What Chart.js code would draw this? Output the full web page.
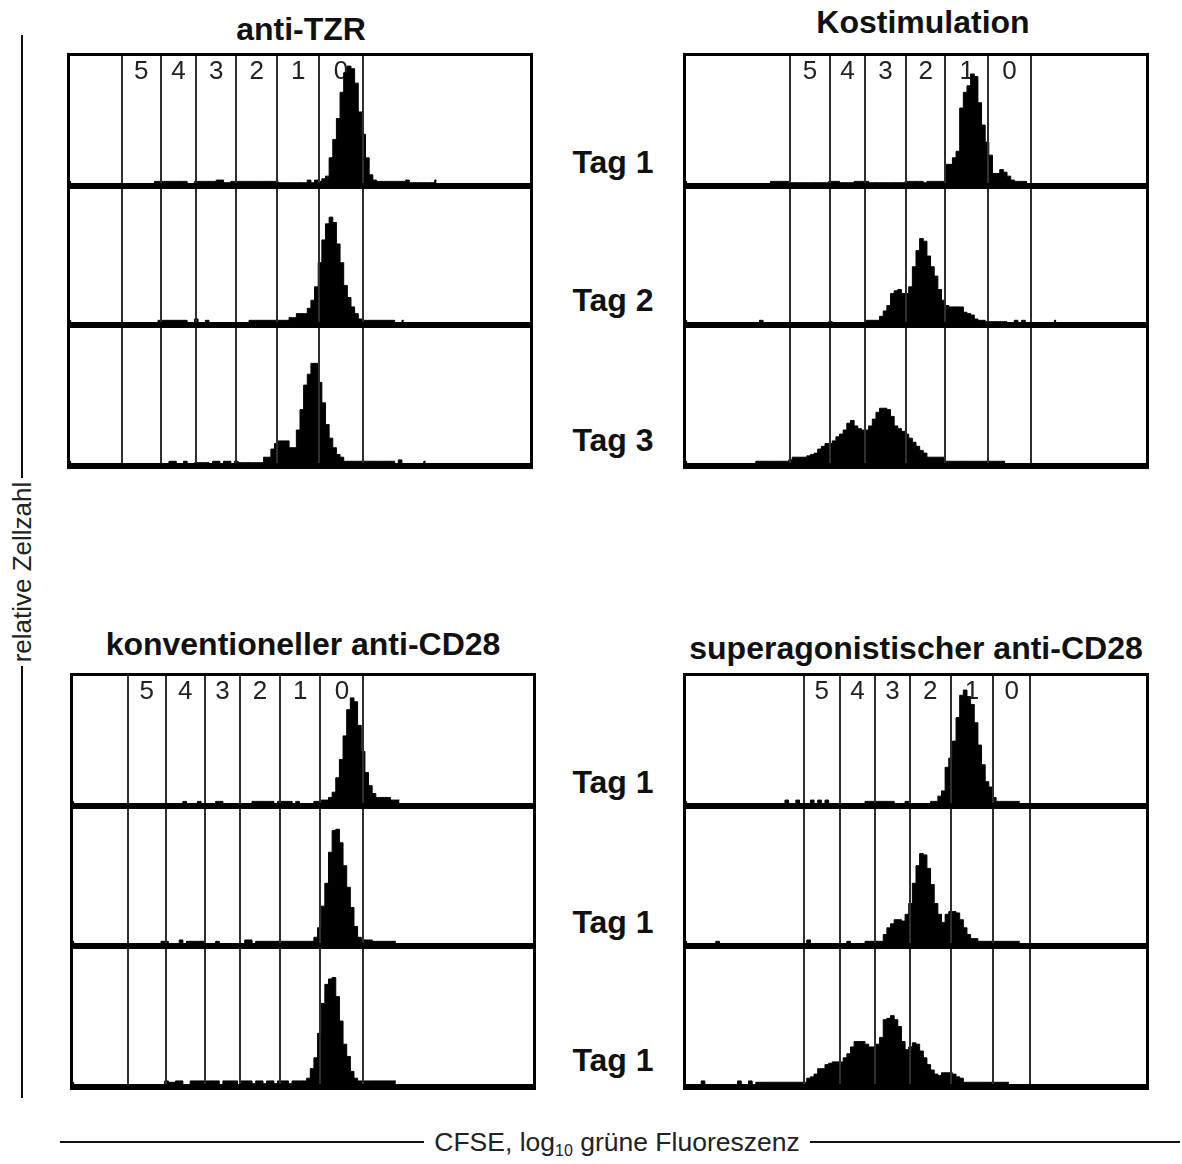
<!DOCTYPE html>
<html>
<head>
<meta charset="utf-8">
<script src="https://cdn.jsdelivr.net/npm/chart.js@4.4.1/dist/chart.umd.min.js"></script>
<style>
  body { margin: 0; background: #fff; }
  #page { position: relative; width: 1182px; height: 1164px; font-family: "Liberation Sans", Arial, sans-serif; color: #111; }
  .t { position: absolute; width: 600px; text-align: center; font-weight: bold; font-size: 32px; line-height: 32px; white-space: nowrap; }
  .row { position: absolute; }
  .rule { position: absolute; background: #111; }
</style>
</head>
<body>
<div id="page">
  <div class="t" style="left:1px;top:13px">anti-TZR</div>
  <div class="t" style="left:623px;top:6px">Kostimulation</div>
  <div class="t" style="left:3px;top:628px">konventioneller anti-CD28</div>
  <div class="t" style="left:616px;top:632px">superagonistischer anti-CD28</div>

  <div class="t" style="left:313px;top:146px">Tag 1</div>
  <div class="t" style="left:313px;top:284px">Tag 2</div>
  <div class="t" style="left:313px;top:424px">Tag 3</div>
  <div class="t" style="left:313px;top:766px">Tag 1</div>
  <div class="t" style="left:313px;top:906px">Tag 1</div>
  <div class="t" style="left:313px;top:1044px">Tag 1</div>

  <div class="rule" style="left:21px;top:35px;width:2px;height:443px"></div>
  <div class="rule" style="left:21px;top:666px;width:2px;height:432px"></div>
  <div style="position:absolute;left:-128px;top:557px;width:300px;height:30px;line-height:30px;font-size:26px;text-align:center;color:#222;transform:rotate(-90deg)">relative Zellzahl</div>

  <div class="rule" style="left:60px;top:1141px;width:364px;height:2px"></div>
  <div class="rule" style="left:810px;top:1141px;width:370px;height:2px"></div>
  <div style="position:absolute;left:317px;top:1127px;width:600px;height:30px;line-height:30px;font-size:26.5px;text-align:center;color:#222;white-space:nowrap">CFSE, log<sub style="font-size:16px;line-height:0;vertical-align:-5px">10</sub> grüne Fluoreszenz</div>
</div>

<script>
// histogram counts per channel bin (128 bins across the plot, % of row height)
const tzrTag1 = [
  2,0,0,0,0,0,0,0,0,0, 0,0,0,0,0,0,0,0,0,0,
  0,0,0,0,2,2,2,2,2,2, 2,2,2,0,0,2,2,2,2,2,
  2,3,3,1,1,2,2,2,2,2, 2,2,2,2,2,2,2,2,1,1,
  1,1,1,1,1,1,3,1,3,2, 4,6,20,34,50,70,85,90,88,77,
  55,38,20,7,3,2,2,2,2,2, 2,2,2,3,1,1,1,1,1,1,
  1,3
];
const tzrTag2 = [
  2,0,0,0,0,0,0,0,0,0, 0,0,0,0,0,0,0,0,0,0,
  0,0,0,0,0,2,2,2,2,2, 2,2,2,0,0,3,0,0,2,0,
  0,0,0,0,0,0,0,0,0,0, 2,2,2,2,2,2,2,2,2,2,
  2,4,4,7,7,7,11,17,27,45, 62,74,79,75,59,45,28,19,12,7,
  3,2,2,2,2,2,2,2,2,2, 0,0,2
];
const tzrTag3 = [
  2,0,0,0,0,0,0,0,0,0, 0,0,0,0,0,0,0,0,0,0,
  0,0,0,0,0,0,0,0,2,2, 0,0,2,0,0,1,1,1,1,0,
  2,2,0,2,2,0,2,1,1,1, 1,1,1,1,5,5,11,15,17,17,
  17,12,12,25,40,58,66,74,74,60, 45,29,19,12,7,5,2,2,2,2,
  2,2,2,2,2,2,2,2,2,2, 0,3,0,0,0,0,0,0,2
];
const kostTag1 = [
  2,0,0,0,0,0,0,0,0,0, 0,0,0,0,0,0,0,0,0,0,
  0,0,0,0,2,2,2,2,2,1, 1,1,1,1,1,1,1,1,1,1,
  2,2,2,1,1,1,1,2,2,2, 2,1,1,1,1,1,1,1,1,1,
  1,2,2,2,2,2,1,2,2,2, 2,2,15,15,20,25,58,70,75,84,
  82,62,45,32,22,8,8,11,9,6, 3,2,2,2,2
];
const kostTag2 = [
  2,0,0,0,0,0,0,0,0,0, 0,0,0,0,0,0,0,0,0,0,
  0,2,0,0,0,0,0,0,0,0, 0,0,0,0,0,0,0,0,0,0,
  1,0,0,0,0,0,0,0,0,0, 2,2,2,2,5,9,13,22,24,25,
  22,22,27,42,54,63,61,50,42,35, 25,17,13,12,12,12,12,8,7,6,
  3,2,2,1,1,1,1,1,1,0, 0,2,0,2,0,0,0,0,0,0,
  0,0,2
];
const kostTag3 = [
  2,0,0,0,0,0,0,0,0,0, 0,0,0,0,0,0,0,0,0,0,
  2,2,2,2,2,2,2,2,2,3, 5,5,5,5,6,7,8,11,13,15,
  15,17,20,22,25,30,32,28,26,25, 25,28,33,38,41,41,40,35,28,26,
  24,22,19,16,13,10,8,5,5,5, 5,5,2,2,2,2,2,2,2,2,
  2,2,2,2,2,2,2,2,2
];
const konvTag1 = [
  2,0,0,0,0,0,0,0,0,0, 0,0,0,0,0,0,0,0,0,0,
  0,0,0,0,0,0,0,0,0,0, 0,2,0,0,0,2,0,0,0,0,
  2,2,0,0,0,0,0,0,0,0, 2,2,2,2,2,2,0,2,2,2,
  2,0,2,0,0,0,0,2,2,3, 3,5,9,20,34,52,72,81,78,60,
  40,24,14,8,5,5,5,5,3,3, 3
];
const konvTag2 = [
  2,0,0,0,0,0,0,0,0,0, 0,0,0,0,0,0,0,0,0,0,
  0,0,0,0,0,2,2,0,0,0, 3,0,2,2,2,2,2,0,0,0,
  2,0,0,0,0,0,0,0,3,3, 0,2,2,2,2,2,2,2,2,2,
  2,2,2,2,2,2,2,5,12,28, 45,68,84,85,75,58,42,27,13,5,
  3,3,3,2,2,2,2,2,2,2
];
const konvTag3 = [
  2,0,0,0,0,0,0,0,0,0, 0,0,0,0,0,0,0,0,0,0,
  0,0,0,0,0,0,3,2,2,3, 3,0,0,3,3,3,3,3,3,3,
  3,0,3,3,3,3,0,3,3,3, 1,3,3,1,3,3,1,3,3,3,
  1,3,3,3,3,5,12,20,38,60, 74,78,79,65,47,30,21,10,5,3,
  3,3,3,3,3,3,3,3,3,3
];
const superTag1 = [
  2,0,0,0,0,0,0,0,0,0, 0,0,0,0,0,0,0,0,0,0,
  0,0,0,0,0,0,0,0,3,0, 0,3,0,0,0,3,0,3,0,3,
  0,0,0,0,0,0,0,0,0,0, 2,2,2,2,2,2,2,2,0,0,
  0,2,0,0,0,0,0,0,2,2, 6,10,28,35,48,66,83,87,82,76,
  62,45,30,17,13,5,2,2,2,2, 2,2,2
];
const superTag2 = [
  2,0,0,0,0,0,0,0,0,2, 0,0,0,0,0,0,0,0,0,0,
  0,0,0,0,0,0,0,0,0,0, 0,0,0,0,3,0,0,0,0,0,
  0,0,0,0,0,2,0,0,0,0, 2,2,2,2,2,7,12,15,18,18,
  17,22,30,45,58,67,66,56,44,30, 22,16,22,24,24,23,18,12,7,4,
  4,2,2,2,2,2,2,2,2,2, 2,2,2
];
const superTag3 = [
  0,0,0,0,0,3,0,0,0,0, 0,0,0,0,0,3,0,0,3,0,
  2,2,2,2,2,2,2,2,2,2, 2,2,2,2,5,6,8,12,12,15,
  16,17,17,17,20,23,28,32,32,32, 30,28,28,30,35,48,49,51,48,43,
  32,26,28,31,30,25,20,15,11,8, 7,9,9,9,8,6,5,2,2,2,
  2,2,2,2,2,2,2,2,2,2
];

// gate boundaries (bin units) between division numbers
const gatesTZR = [15.1, 25.7, 35.5, 46.5, 57.7, 69.3, 81.2];
const gatesKost = [29.5, 40.3, 50.0, 61.2, 72.1, 83.8, 95.5];
const gatesKonv = [15.9, 26.3, 37.0, 46.7, 57.7, 68.8, 80.6];
const gatesSuper = [33.2, 43.0, 52.8, 62.3, 73.5, 85.2, 95.4];
const divisions = ['5', '4', '3', '2', '1', '0'];

const panels = [
  { left: 67, rows: [[53, 189], [189, 328], [328, 469]], gates: gatesTZR, hists: [tzrTag1, tzrTag2, tzrTag3] },
  { left: 683, rows: [[53, 189], [189, 328], [328, 469]], gates: gatesKost, hists: [kostTag1, kostTag2, kostTag3] },
  { left: 70, rows: [[673, 809], [809, 949], [949, 1090]], gates: gatesKonv, hists: [konvTag1, konvTag2, konvTag3] },
  { left: 683, rows: [[673, 809], [809, 949], [949, 1090]], gates: gatesSuper, hists: [superTag1, superTag2, superTag3] }
];

const gatePlugin = {
  id: 'gates',
  beforeDatasetsDraw(chart, args, opts) {
    if (!opts.labels) return;
    const ctx = chart.ctx, xs = chart.scales.x;
    ctx.save();
    ctx.font = '26px "Liberation Sans", Arial, sans-serif';
    ctx.fillStyle = '#222';
    ctx.textAlign = 'center';
    ctx.textBaseline = 'alphabetic';
    opts.labels.forEach((t, i) => {
      const mid = (opts.gates[i] + opts.gates[i + 1]) / 2;
      ctx.fillText(t, xs.getPixelForValue(mid), 26);
    });
    ctx.restore();
  },
  afterDatasetsDraw(chart, args, opts) {
    const ctx = chart.ctx, xs = chart.scales.x;
    const w = chart.width, h = chart.height;
    ctx.save();
    ctx.strokeStyle = '#2e2e2e';
    ctx.lineWidth = 2;
    opts.gates.forEach(g => {
      const x = Math.round(xs.getPixelForValue(g));
      ctx.beginPath();
      ctx.moveTo(x, 0);
      ctx.lineTo(x, h);
      ctx.stroke();
    });
    // frame
    ctx.fillStyle = '#000';
    ctx.fillRect(0, 0, 3, h);
    ctx.fillRect(w - 3, 0, 3, h);
    ctx.fillRect(0, h - 6, w, 6);
    if (opts.top) ctx.fillRect(0, 0, w, 3);
    ctx.restore();
  }
};

const page = document.getElementById('page');

panels.forEach(p => {
  p.rows.forEach(([top, bottom], r) => {
    const h = bottom - top;
    const div = document.createElement('div');
    div.className = 'row';
    div.style.left = p.left + 'px';
    div.style.top = top + 'px';
    const cv = document.createElement('canvas');
    cv.width = 466;
    cv.height = h;
    cv.style.width = '466px';
    cv.style.height = h + 'px';
    div.appendChild(cv);
    page.appendChild(div);

    new Chart(cv, {
      type: 'line',
      data: {
        datasets: [{
          data: p.hists[r].map((v, i) => ({ x: i + 0.5, y: v })),
          stepped: 'middle',
          fill: 'origin',
          backgroundColor: '#000',
          borderColor: '#000',
          borderWidth: 1,
          pointRadius: 0
        }]
      },
      options: {
        responsive: false,
        animation: false,
        events: [],
        layout: { padding: { left: 0, right: 0, top: 0, bottom: 5 } },
        scales: {
          x: { type: 'linear', min: 0, max: 128, display: false },
          y: { min: 0, max: 100, display: false }
        },
        plugins: {
          legend: { display: false },
          tooltip: { enabled: false },
          gates: { gates: p.gates, labels: r === 0 ? divisions : null, top: r === 0 }
        }
      },
      plugins: [gatePlugin]
    });
  });
});
</script>
</body>
</html>
